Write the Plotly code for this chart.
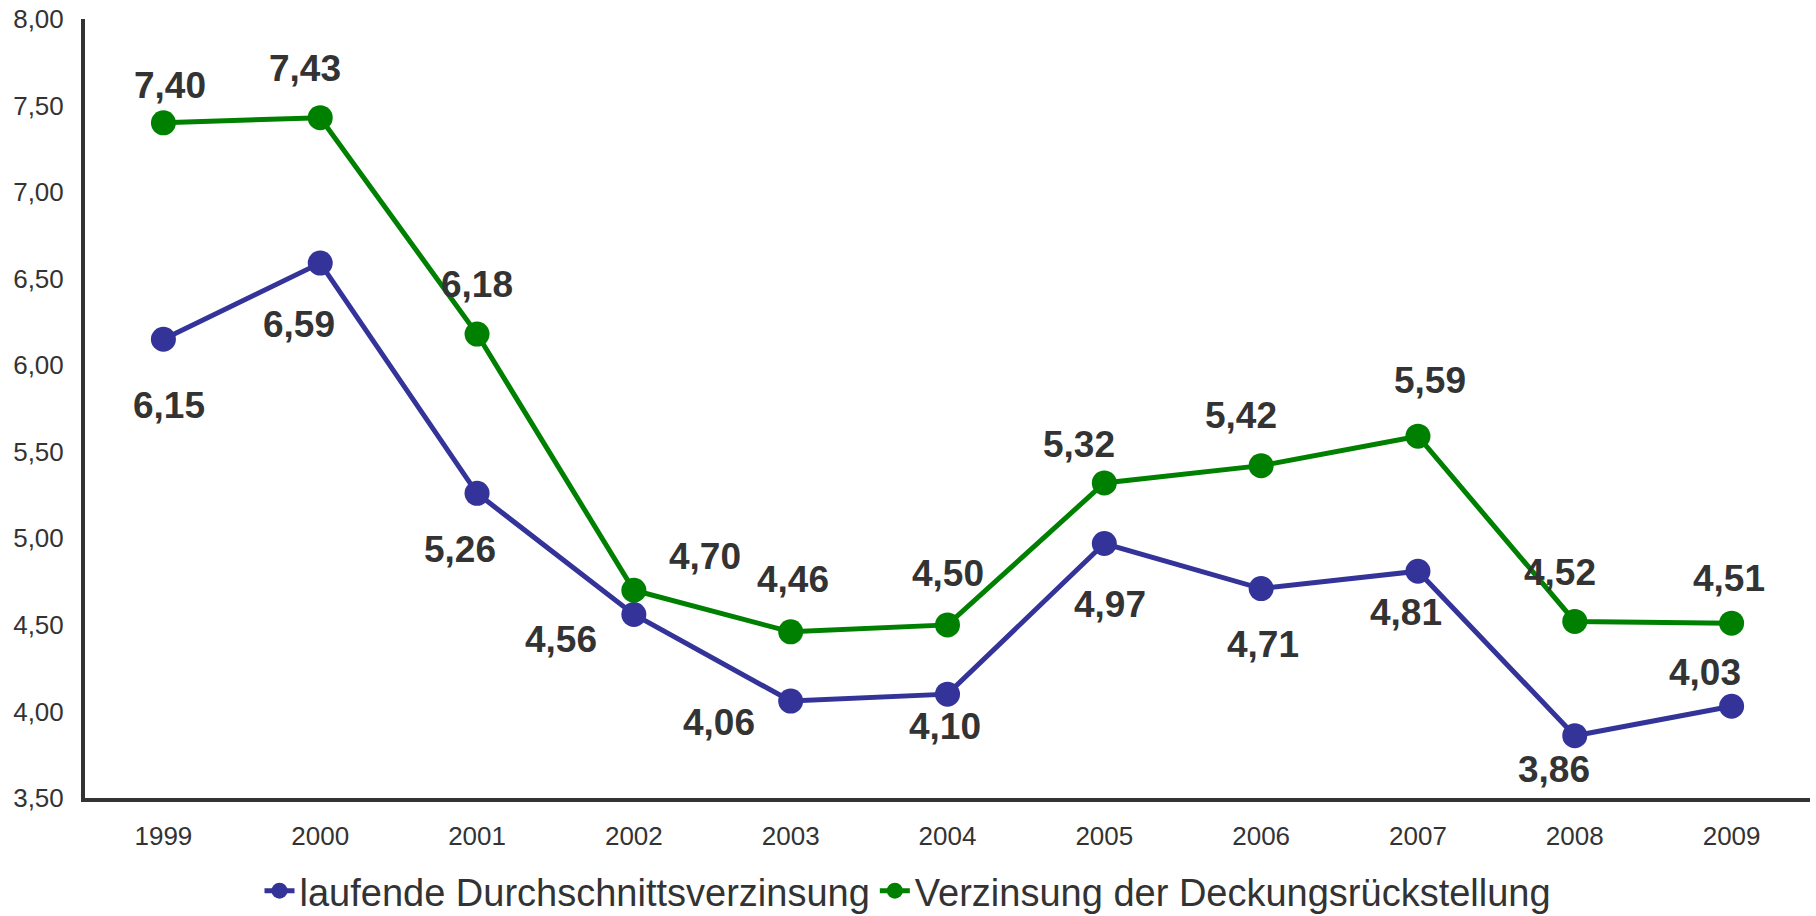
import plotly.graph_objects as go

years = ["1999", "2000", "2001", "2002", "2003", "2004", "2005", "2006", "2007", "2008", "2009"]
laufende = [6.15, 6.59, 5.26, 4.56, 4.06, 4.10, 4.97, 4.71, 4.81, 3.86, 4.03]
deckung = [7.40, 7.43, 6.18, 4.70, 4.46, 4.50, 5.32, 5.42, 5.59, 4.52, 4.51]
name_laufende = "laufende Durchschnittsverzinsung"
name_deckung = "Verzinsung der Deckungsrückstellung"

# label offsets (pixels) relative to each marker
lauf_dx = [6, -21, -17, -73, -72, -3, 6, 2, -12, -21, -27]
lauf_dy = [-66, -61, -56, -25, -21, -32, -61, -56, -41, -34, 34]
deck_dx = [7, -15, 0, 71, 2, 0, -25, -20, 12, -15, -3]
deck_dy = [37, 49, 50, 34, 52, 51, 38, 50, 56, 49, 45]

BLUE = "#333399"
GREEN = "#008000"
TXT = "#333333"
FONT = "Liberation Sans, Arial, sans-serif"

fig = go.Figure()
fig.add_trace(go.Scatter(x=years, y=laufende, name=name_laufende, mode="lines+markers",
                         line=dict(color=BLUE, width=5), marker=dict(color=BLUE, size=25)))
fig.add_trace(go.Scatter(x=years, y=deckung, name=name_deckung, mode="lines+markers",
                         line=dict(color=GREEN, width=5), marker=dict(color=GREEN, size=25)))

def fmt(v):
    return f"{v:.2f}".replace(".", ",")

annotations = []
for vals, dxs, dys in ((laufende, lauf_dx, lauf_dy), (deckung, deck_dx, deck_dy)):
    for i, (v, dx, dy) in enumerate(zip(vals, dxs, dys)):
        annotations.append(dict(x=i, y=v, xref="x", yref="y", text="<b>" + fmt(v) + "</b>",
                                showarrow=False, xshift=dx, yshift=dy,
                                xanchor="center", yanchor="middle",
                                font=dict(family=FONT, size=37, color=TXT)))

fig.update_layout(
    width=1816, height=916,
    margin=dict(l=85, r=6, t=19, b=118, autoexpand=False),
    paper_bgcolor="white", plot_bgcolor="white",
    separators=",.",
    font=dict(family=FONT, color=TXT),
    showlegend=True,
    legend=dict(orientation="h", xref="container", yref="paper", x=0.5, y=-0.1194,
                xanchor="center", yanchor="middle", font=dict(size=38, color=TXT),
                itemsizing="trace", traceorder="normal"),
    annotations=annotations,
)
fig.update_xaxes(type="category", range=[-0.5, 10.5], showgrid=False, zeroline=False,
                 showline=True, linecolor=TXT, linewidth=4, ticks="", automargin=False,
                 tickfont=dict(size=26, color=TXT), ticklabelstandoff=12)
fig.update_yaxes(range=[3.5, 8.0], dtick=0.5, tick0=3.5, tickformat=".2f", showgrid=False,
                 zeroline=False, showline=True, linecolor=TXT, linewidth=4, ticks="",
                 automargin=False, ticklabeloverflow="allow",
                 tickfont=dict(size=26, color=TXT), ticklabelstandoff=12)

fig.write_html("out.html", config={"displayModeBar": False},
               post_script="document.body.style.margin='0';")
